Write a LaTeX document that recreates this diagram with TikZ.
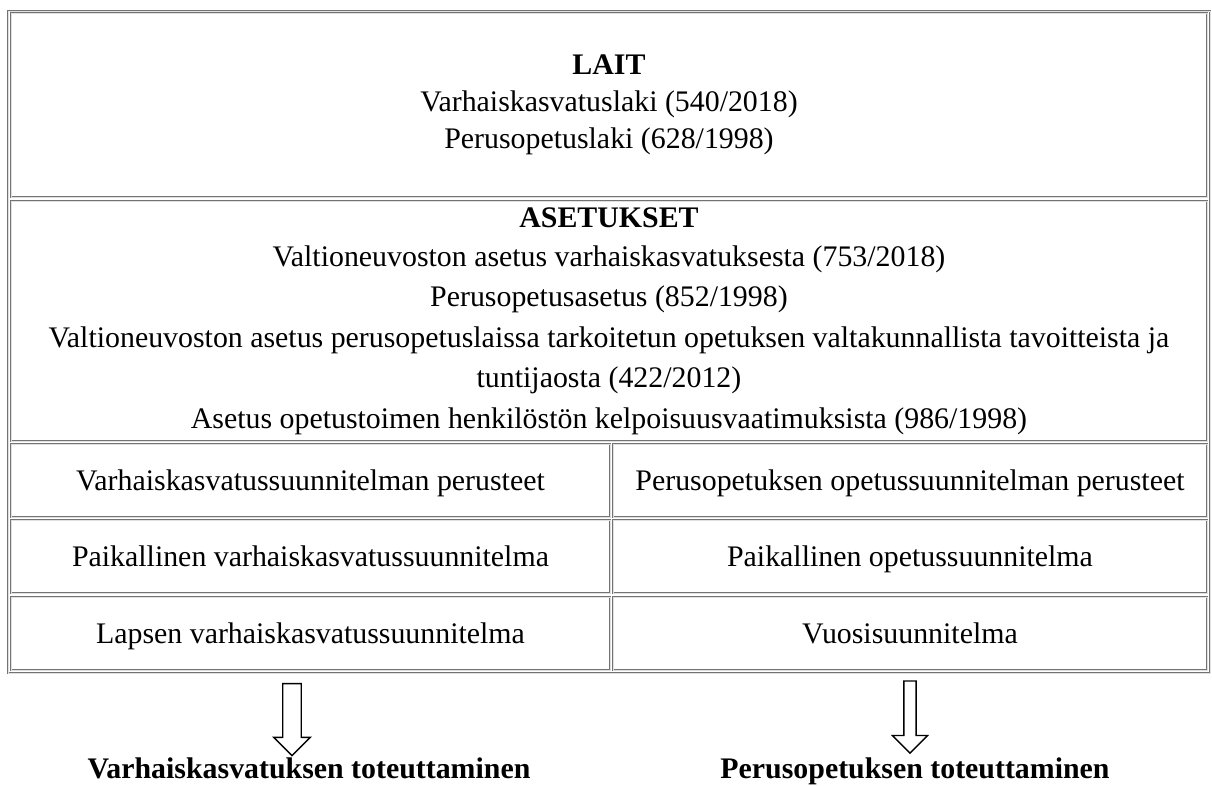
\documentclass[tikz,border=0pt]{standalone}
\usepackage{fontspec}
\setmainfont{Liberation Serif}
\usetikzlibrary{shapes.arrows}
\colorlet{myframe}{black!55}
\colorlet{mygap}{black!12}
\tikzset{
  frame/.style={draw=myframe, double=mygap, double distance=0.7pt, line width=0.55pt},
  cell/.style={frame, inner sep=0pt, align=center, font=\fontsize{22.4}{27.75}\selectfont},
  cell wide/.style={cell, minimum width=897pt},
  cell half/.style={cell, minimum height=54.75pt, text height=20pt, text depth=5pt},
  cell left/.style={cell half, minimum width=449.25pt},
  cell right/.style={cell half, minimum width=445.5pt},
  down arrow/.style={single arrow, shape border rotate=270, draw=black, line width=1pt,
    fill=white, single arrow head indent=0pt, minimum height=54pt},
  result/.style={anchor=base, font=\fontsize{22.4}{27}\selectfont\bfseries}
}

\begin{document}
\begin{tikzpicture}[x=0.75pt, y=-0.75pt]
\useasboundingbox (0,0) rectangle (1212,785);

% Outer frame
\draw[frame] (8,11) rectangle (1210,673);

% Laws and decrees
\node[cell wide, minimum height=138pt] (lait) at (609,105)
  {\textbf{LAIT}\\ Varhaiskasvatuslaki (540/2018)\\ Perusopetuslaki (628/1998)};
\node[cell wide, minimum height=180pt, font=\fontsize{22.4}{30.4}\selectfont] (aset) at (609,321)
  {\textbf{ASETUKSET}\\[-1.1pt]
   Valtioneuvoston asetus varhaiskasvatuksesta (753/2018)\\
   Perusopetusasetus (852/1998)\\
   Valtioneuvoston asetus perusopetuslaissa tarkoitetun opetuksen valtakunnallista tavoitteista ja\\
   tuntijaosta (422/2012)\\
   Asetus opetustoimen henkilöstön kelpoisuusvaatimuksista (986/1998)};

% Curricula, left column
\node[cell left] (vasu-1) at (310.5,480.5) {Varhaiskasvatussuunnitelman perusteet};
\node[cell left] (vasu-2) at (310.5,556.5) {Paikallinen varhaiskasvatussuunnitelma};
\node[cell left] (vasu-3) at (310.5,633.5) {Lapsen varhaiskasvatussuunnitelma};

% Curricula, right column
\node[cell right] (ops-1) at (910,480.5) {Perusopetuksen opetussuunnitelman perusteet};
\node[cell right] (ops-2) at (910,556.5) {Paikallinen opetussuunnitelma};
\node[cell right] (ops-3) at (910,633.5) {Vuosisuunnitelma};

% Arrows
\node[down arrow, inner sep=6.4pt, single arrow head extend=6.75pt] (arr-L) at (292,715) {};
\node[down arrow, inner sep=4.1pt, single arrow head extend=8.6pt] (arr-R) at (910,714) {};

% Implementation
\node[result] (tot-L) at (309,778) {Varhaiskasvatuksen toteuttaminen};
\node[result] (tot-R) at (915,778) {Perusopetuksen toteuttaminen};

\end{tikzpicture}
\end{document}
